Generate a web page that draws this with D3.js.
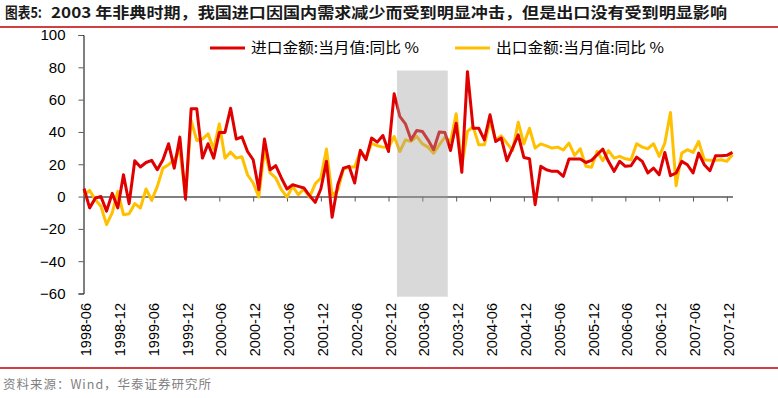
<!DOCTYPE html>
<html>

<head>
    <meta charset="UTF-8">
    <style>
        body { margin: 0; background: #fff; }
        svg { display: block; font-family: "Liberation Sans", Arial, sans-serif; }
    </style>
</head>

<body>
    <svg></svg>
    <script src="https://d3js.org/d3.v7.min.js"></script>

    <script>

        let width = 778, height = 398;

        // monthly YoY, 1998-06 .. 2008-01
        let importYoY = [
            5, -7, -1, 0, -9, 2, -7, 13.5, -4.4, 22.2, 18.3, 21.1,
            22.4, 16.6, 22.8, 32.7, 17.6, 36.8, -1.5, 54.3, 54.3, 23.8, 32.7, 23.8,
            39.7, 39.7, 54.7, 35.6, 37, 27.9, 22.8, 4.3, 35.6, 16.6, 19.1, 11.5,
            4.7, 7.3, 6.3, 5.3, 0.6, -3.6, 4.7, 21.8, -12.8, 7.3, 17.6, 18.7,
            8.4, 28.6, 22.8, 36.2, 33.7, 37.8, 27.9, 63.6, 49.6, 45, 35.1, 40.9,
            40.3, 35.1, 29, 40, 39.6, 28.5, 45.4, 15, 77.3, 42.3, 42.3, 35.1,
            50.6, 34.1, 36.2, 22.2, 30, 38.2, 24.2, 23.4, -5, 18.7, 16.6, 15.6,
            15.6, 12.5, 23.2, 23.2, 23.2, 21.1, 22.4, 25.9, 29.4, 21.8, 15.6, 21.8,
            18.7, 19.1, 24.4, 21.8, 14.6, 17.6, 13.5, 27.3, 12.9, 14.6, 21.8, 19.7,
            14.6, 26.9, 19.7, 16, 25.3, 25.3, 25.5, 27.3
        ];

        let exportYoY = [
            1, 3.8, -1.9, -6, -17.4, -10.1, 3.2, -11.2, -10.6, -4.4, -7.1, 4.7,
            -2.3, 6.3, 17.6, 19.7, 22.8, 28.6, 0.6, 47.1, 34.7, 35.6, 38.8, 29.4,
            45, 23.8, 27.5, 23.8, 24.6, 13.5, 8.4, -0.3, 29, 14.6, 11.5, 4.3,
            -0.3, 6.3, 1.2, 4.7, -0.3, 7.9, 11.5, 29.4, 0.6, 3.9, 17, 18.3,
            18.3, 27.9, 23.8, 33, 31.4, 30.6, 30.4, 37.2, 27.9, 35.1, 34.1, 37.2,
            32.6, 30.6, 26.9, 32, 36.8, 34.1, 51.2, 19.1, 40.3, 43.3, 32, 32,
            46.9, 35.1, 37.6, 33.1, 28.5, 46, 32.6, 42.3, 30, 32.6, 31.4, 30,
            30.6, 28.8, 33.1, 25.5, 29.6, 18.7, 18.1, 28, 22.2, 28.4, 23.8, 24.9,
            23.4, 22.8, 32.7, 30.6, 29.6, 32.7, 24.9, 33.1, 52, 6.7, 26.9, 29,
            27.3, 34.1, 22.8, 22.4, 22.4, 22.8, 21.8, 25.9
        ];

        let tickLabels = ["1998-06", "1998-12", "1999-06", "1999-12", "2000-06", "2000-12",
            "2001-06", "2001-12", "2002-06", "2002-12", "2003-06", "2003-12", "2004-06",
            "2004-12", "2005-06", "2005-12", "2006-06", "2006-12", "2007-06", "2007-12"];

        let yTicks = [100, 80, 60, 40, 20, 0, -20, -40, -60];

        let seriesNames = ["进口金额:当月值:同比 %", "出口金额:当月值:同比 %"];
        let seriesColors = ["#e00000", "#ffc000"];

        // SARS period, month index range 2003-02 .. 2003-10 (+-half month)
        let sarsMonths = [56, 64];
        let sarsBar = [78, -62];

        let svg = d3.select("svg")
            .attr("width", width)
            .attr("height", height)
            .attr("viewBox", "0 0 " + width + " " + height);

        let x = d3.scaleLinear().domain([0, importYoY.length - 1]).range([84, 732.5]);
        let y = d3.scaleLinear().domain([-60, 100]).range([293.5, 35]);

        // title + rules
        svg.append("text")
            .attr("x", 5).attr("y", 18)
            .attr("font-family", "'Noto Sans CJK SC', sans-serif")
            .attr("font-weight", "bold")
            .attr("font-size", 15)
            .attr("fill", "#1a1a1a")
            .attr("textLength", 37)
            .attr("lengthAdjust", "spacingAndGlyphs")
            .text("图表5:");
        svg.append("text")
            .attr("x", 51).attr("y", 18)
            .attr("font-family", "'Noto Sans CJK SC', sans-serif")
            .attr("font-weight", "bold")
            .attr("font-size", 15)
            .attr("fill", "#1a1a1a")
            .attr("textLength", 676)
            .attr("lengthAdjust", "spacingAndGlyphs")
            .text("2003 年非典时期，我国进口因国内需求减少而受到明显冲击，但是出口没有受到明显影响");

        svg.append("line")
            .attr("x1", 0).attr("x2", width).attr("y1", 27).attr("y2", 27)
            .attr("stroke", "#c00000").attr("stroke-width", 1.5);
        svg.append("line")
            .attr("x1", 0).attr("x2", width).attr("y1", 368).attr("y2", 368)
            .attr("stroke", "#c00000").attr("stroke-width", 1.5);

        svg.append("text")
            .attr("x", 3).attr("y", 389)
            .attr("font-family", "'Noto Sans CJK SC', sans-serif")
            .attr("font-size", 12.5)
            .attr("fill", "#7f7f7f")
            .attr("textLength", 208)
            .attr("lengthAdjust", "spacing")
            .text("资料来源：Wind，华泰证券研究所");

        // y axis
        let yAxis = svg.append("g")
            .attr("transform", "translate(83.5,0)")
            .call(d3.axisLeft(y).tickValues(yTicks).tickSize(5).tickPadding(13).tickFormat(d3.format("d")));
        yAxis.select(".domain").attr("stroke", "#000");
        yAxis.selectAll(".tick line").attr("stroke", "#595959");
        yAxis.selectAll("text")
            .attr("font-size", 15)
            .attr("font-family", "'Liberation Sans', Arial, sans-serif")
            .attr("fill", "#000");

        // x axis at zero
        let tickIdx = tickLabels.map((d, i) => i * 6);
        let xAxis = svg.append("g")
            .attr("transform", "translate(0," + y(0) + ")")
            .call(d3.axisBottom(x).tickValues(tickIdx).tickSize(5).tickSizeOuter(0).tickFormat(""));
        xAxis.select(".domain").attr("stroke", "#808080").attr("stroke-width", 2);
        xAxis.selectAll(".tick line").attr("stroke", "#595959");

        svg.append("g")
            .selectAll("text")
            .data(tickLabels)
            .enter()
            .append("text")
            .attr("transform", (d, i) => "translate(" + (x(tickIdx[i]) + 7) + ",303) rotate(-90)")
            .attr("text-anchor", "end")
            .attr("font-size", 14.5)
            .attr("fill", "#000")
            .text(d => d);

        // lines
        let line = d3.line()
            .x((d, i) => x(i))
            .y(d => y(d));

        svg.append("path")
            .datum(exportYoY)
            .attr("fill", "none")
            .attr("stroke", seriesColors[1])
            .attr("stroke-width", 3)
            .attr("stroke-linejoin", "round")
            .attr("d", line);

        svg.append("path")
            .datum(importYoY)
            .attr("fill", "none")
            .attr("stroke", seriesColors[0])
            .attr("stroke-width", 3)
            .attr("stroke-linejoin", "round")
            .attr("d", line);

        // SARS shading on top
        svg.append("rect")
            .attr("x", x(sarsMonths[0] - 0.5))
            .attr("width", x(sarsMonths[1] + 0.5) - x(sarsMonths[0] - 0.5))
            .attr("y", y(sarsBar[0]))
            .attr("height", y(sarsBar[1]) - y(sarsBar[0]))
            .attr("fill", "rgb(160,160,160)")
            .attr("fill-opacity", 0.4);

        // legend
        let legendX = [210, 455];
        let legend = svg.append("g")
            .selectAll("g")
            .data(seriesNames)
            .enter()
            .append("g")
            .attr("transform", (d, i) => "translate(" + legendX[i] + ",48)");
        legend.append("line")
            .attr("x1", 0).attr("x2", 35)
            .attr("stroke", (d, i) => seriesColors[i])
            .attr("stroke-width", 3);
        legend.append("text")
            .attr("x", 41).attr("y", 5)
            .attr("font-family", "'Noto Sans CJK SC', sans-serif")
            .attr("font-size", 15)
            .attr("fill", "#000")
            .attr("textLength", 168)
            .attr("lengthAdjust", "spacingAndGlyphs")
            .text(d => d);

    </script>
</body>

</html>
